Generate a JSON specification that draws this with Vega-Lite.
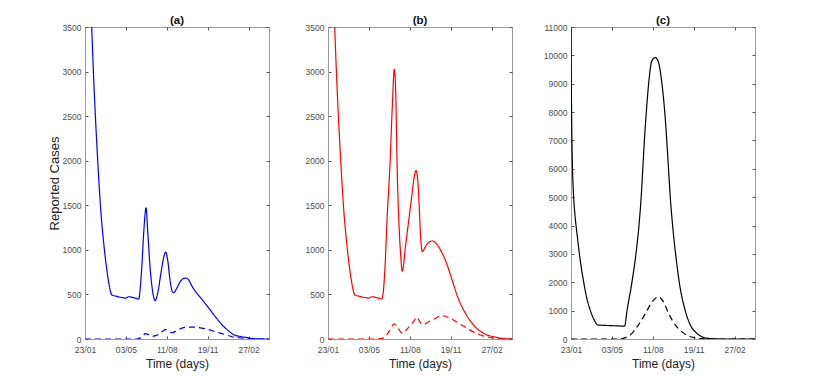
{
  "$schema": "https://vega.github.io/schema/vega-lite/v6.json",
  "padding": {"left": 47, "top": 14, "right": 5, "bottom": 5},
  "background": "white",
  "bounds": "flush",
  "spacing": 59,
  "datasets": {
    "a": [
      {"day": 0, "cases": 11000, "series": "all"}, {"day": 0.8, "cases": 9000, "series": "all"}, {"day": 1.8, "cases": 7500, "series": "all"}, {"day": 3, "cases": 6400, "series": "all"}, {"day": 4.5, "cases": 5600, "series": "all"}, {"day": 6.5, "cases": 5000, "series": "all"}, {"day": 9.5, "cases": 4400, "series": "all"}, {"day": 12.3, "cases": 4000, "series": "all"}, {"day": 16.4, "cases": 3500, "series": "all"}, {"day": 20.5, "cases": 3000, "series": "all"}, {"day": 25.4, "cases": 2500, "series": "all"}, {"day": 31.1, "cases": 2000, "series": "all"}, {"day": 37.7, "cases": 1500, "series": "all"}, {"day": 47.5, "cases": 1000, "series": "all"}, {"day": 55.7, "cases": 700, "series": "all"}, {"day": 61, "cases": 560, "series": "all"}, {"day": 65.5, "cases": 495, "series": "all"},
      {"day": 80, "cases": 476, "series": "all"}, {"day": 94, "cases": 462, "series": "all"}, {"day": 99, "cases": 458, "series": "all"}, {"day": 107, "cases": 474, "series": "all"}, {"day": 118, "cases": 465, "series": "all"}, {"day": 126, "cases": 455, "series": "all"}, {"day": 131, "cases": 448, "series": "all"},
      {"day": 138.8, "cases": 800, "series": "all"}, {"day": 143.7, "cases": 1200, "series": "all"}, {"day": 149.4, "cases": 1470, "series": "all"}, {"day": 153.5, "cases": 1200, "series": "all"}, {"day": 159.2, "cases": 800, "series": "all"}, {"day": 164.9, "cases": 550, "series": "all"}, {"day": 171.4, "cases": 430, "series": "all"}, {"day": 178, "cases": 520, "series": "all"}, {"day": 186.1, "cases": 750, "series": "all"}, {"day": 192.7, "cases": 920, "series": "all"}, {"day": 197.6, "cases": 975, "series": "all"}, {"day": 202.4, "cases": 880, "series": "all"}, {"day": 208.2, "cases": 650, "series": "all"}, {"day": 213.9, "cases": 530, "series": "all"}, {"day": 217.1, "cases": 520, "series": "all"}, {"day": 224.5, "cases": 570, "series": "all"}, {"day": 232.7, "cases": 640, "series": "all"}, {"day": 241, "cases": 680, "series": "all"}, {"day": 248, "cases": 684, "series": "all"}, {"day": 254, "cases": 660, "series": "all"}, {"day": 262, "cases": 590, "series": "all"}, {"day": 270, "cases": 535, "series": "all"}, {"day": 285, "cases": 450, "series": "all"}, {"day": 302.6, "cases": 348, "series": "all"}, {"day": 318, "cases": 255, "series": "all"}, {"day": 335, "cases": 160, "series": "all"}, {"day": 350, "cases": 95, "series": "all"}, {"day": 364, "cases": 48, "series": "all"}, {"day": 380, "cases": 28, "series": "all"}, {"day": 392, "cases": 19, "series": "all"}, {"day": 410, "cases": 6, "series": "all"}, {"day": 425, "cases": 1, "series": "all"}, {"day": 450, "cases": 0, "series": "all"},
      {"day": 0, "cases": 0, "series": "part"}, {"day": 125, "cases": 0, "series": "part"}, {"day": 138, "cases": 20, "series": "part"}, {"day": 148, "cases": 60, "series": "part"}, {"day": 155, "cases": 50, "series": "part"}, {"day": 163, "cases": 30, "series": "part"}, {"day": 175, "cases": 40, "series": "part"}, {"day": 188, "cases": 80, "series": "part"}, {"day": 197, "cases": 105, "series": "part"}, {"day": 205, "cases": 85, "series": "part"}, {"day": 213, "cases": 70, "series": "part"}, {"day": 221, "cases": 86, "series": "part"}, {"day": 233, "cases": 115, "series": "part"}, {"day": 245, "cases": 130, "series": "part"}, {"day": 258, "cases": 134, "series": "part"}, {"day": 278, "cases": 128, "series": "part"}, {"day": 294, "cases": 115, "series": "part"}, {"day": 303, "cases": 105, "series": "part"}, {"day": 320, "cases": 80, "series": "part"}, {"day": 344, "cases": 48, "series": "part"}, {"day": 360, "cases": 25, "series": "part"}, {"day": 385, "cases": 11, "series": "part"}, {"day": 400, "cases": 4, "series": "part"}, {"day": 420, "cases": 0, "series": "part"}, {"day": 450, "cases": 0, "series": "part"}
    ],
    "b": [
      {"day": 0, "cases": 11000, "series": "all"}, {"day": 0.8, "cases": 9000, "series": "all"}, {"day": 1.8, "cases": 7500, "series": "all"}, {"day": 3, "cases": 6400, "series": "all"}, {"day": 4.5, "cases": 5600, "series": "all"}, {"day": 6.5, "cases": 5000, "series": "all"}, {"day": 9.5, "cases": 4400, "series": "all"}, {"day": 12.3, "cases": 4000, "series": "all"}, {"day": 16.4, "cases": 3500, "series": "all"}, {"day": 20.5, "cases": 3000, "series": "all"}, {"day": 25.4, "cases": 2500, "series": "all"}, {"day": 31.1, "cases": 2000, "series": "all"}, {"day": 37.7, "cases": 1500, "series": "all"}, {"day": 47.5, "cases": 1000, "series": "all"}, {"day": 55.7, "cases": 700, "series": "all"}, {"day": 61, "cases": 560, "series": "all"}, {"day": 65.5, "cases": 495, "series": "all"},
      {"day": 80, "cases": 476, "series": "all"}, {"day": 94, "cases": 462, "series": "all"}, {"day": 99, "cases": 458, "series": "all"}, {"day": 107, "cases": 474, "series": "all"}, {"day": 118, "cases": 465, "series": "all"}, {"day": 126, "cases": 455, "series": "all"}, {"day": 131, "cases": 448, "series": "all"},
      {"day": 135, "cases": 520, "series": "all"}, {"day": 139.3, "cases": 800, "series": "all"}, {"day": 145, "cases": 1400, "series": "all"}, {"day": 151.5, "cases": 1950, "series": "all"}, {"day": 157.2, "cases": 2600, "series": "all"}, {"day": 162.1, "cases": 3025, "series": "all"}, {"day": 165.4, "cases": 2800, "series": "all"}, {"day": 169.5, "cases": 1850, "series": "all"}, {"day": 173.5, "cases": 1300, "series": "all"}, {"day": 177.6, "cases": 950, "series": "all"}, {"day": 181.7, "cases": 760, "series": "all"}, {"day": 189.8, "cases": 1050, "series": "all"}, {"day": 198, "cases": 1350, "series": "all"}, {"day": 206.1, "cases": 1650, "series": "all"}, {"day": 211, "cases": 1820, "series": "all"}, {"day": 215.1, "cases": 1890, "series": "all"}, {"day": 219.2, "cases": 1800, "series": "all"}, {"day": 222.4, "cases": 1550, "series": "all"}, {"day": 226.5, "cases": 1150, "series": "all"}, {"day": 230.5, "cases": 980, "series": "all"}, {"day": 238.7, "cases": 1040, "series": "all"}, {"day": 246.8, "cases": 1085, "series": "all"}, {"day": 255, "cases": 1100, "series": "all"}, {"day": 263, "cases": 1080, "series": "all"}, {"day": 275, "cases": 1000, "series": "all"}, {"day": 290, "cases": 850, "series": "all"}, {"day": 302, "cases": 684, "series": "all"}, {"day": 318, "cases": 460, "series": "all"}, {"day": 330, "cases": 340, "series": "all"}, {"day": 343, "cases": 236, "series": "all"}, {"day": 363, "cases": 123, "series": "all"}, {"day": 388, "cases": 48, "series": "all"}, {"day": 412, "cases": 19, "series": "all"}, {"day": 430, "cases": 5, "series": "all"}, {"day": 450, "cases": 0, "series": "all"},
      {"day": 0, "cases": 0, "series": "part"}, {"day": 120, "cases": 0, "series": "part"}, {"day": 135, "cases": 10, "series": "part"}, {"day": 150, "cases": 90, "series": "part"}, {"day": 162, "cases": 170, "series": "part"}, {"day": 170, "cases": 130, "series": "part"}, {"day": 182, "cases": 65, "series": "part"}, {"day": 195, "cases": 120, "series": "part"}, {"day": 210, "cases": 200, "series": "part"}, {"day": 217, "cases": 245, "series": "part"}, {"day": 225, "cases": 190, "series": "part"}, {"day": 232, "cases": 160, "series": "part"}, {"day": 245, "cases": 190, "series": "part"}, {"day": 260, "cases": 225, "series": "part"}, {"day": 277, "cases": 262, "series": "part"}, {"day": 290, "cases": 250, "series": "part"}, {"day": 306, "cases": 217, "series": "part"}, {"day": 322, "cases": 170, "series": "part"}, {"day": 339, "cases": 123, "series": "part"}, {"day": 355, "cases": 80, "series": "part"}, {"day": 371, "cases": 48, "series": "part"}, {"day": 388, "cases": 25, "series": "part"}, {"day": 404, "cases": 11, "series": "part"}, {"day": 425, "cases": 2, "series": "part"}, {"day": 450, "cases": 0, "series": "part"}
    ],
    "c": [
      {"day": 0, "cases": 11000, "series": "all"}, {"day": 0.8, "cases": 9000, "series": "all"}, {"day": 1.8, "cases": 7500, "series": "all"}, {"day": 3, "cases": 6400, "series": "all"}, {"day": 4.5, "cases": 5600, "series": "all"}, {"day": 6.5, "cases": 5000, "series": "all"}, {"day": 9.5, "cases": 4400, "series": "all"}, {"day": 12.3, "cases": 4000, "series": "all"}, {"day": 16.4, "cases": 3500, "series": "all"}, {"day": 20.5, "cases": 3000, "series": "all"}, {"day": 25.4, "cases": 2500, "series": "all"}, {"day": 31.1, "cases": 2000, "series": "all"}, {"day": 37.7, "cases": 1500, "series": "all"}, {"day": 47.5, "cases": 1000, "series": "all"}, {"day": 55.7, "cases": 700, "series": "all"}, {"day": 61, "cases": 560, "series": "all"}, {"day": 65.5, "cases": 495, "series": "all"},
      {"day": 84, "cases": 480, "series": "all"}, {"day": 100, "cases": 470, "series": "all"}, {"day": 116, "cases": 462, "series": "all"}, {"day": 131, "cases": 450, "series": "all"},
      {"day": 137, "cases": 1000, "series": "all"}, {"day": 149, "cases": 2000, "series": "all"}, {"day": 158.8, "cases": 3000, "series": "all"}, {"day": 166.2, "cases": 4000, "series": "all"}, {"day": 171.6, "cases": 5000, "series": "all"}, {"day": 175.6, "cases": 6000, "series": "all"}, {"day": 179.5, "cases": 7000, "series": "all"}, {"day": 184.2, "cases": 8000, "series": "all"}, {"day": 189.9, "cases": 9000, "series": "all"}, {"day": 197.5, "cases": 9800, "series": "all"}, {"day": 206, "cases": 9920, "series": "all"}, {"day": 213, "cases": 9800, "series": "all"}, {"day": 222.4, "cases": 9000, "series": "all"}, {"day": 229.3, "cases": 8000, "series": "all"}, {"day": 234.2, "cases": 7000, "series": "all"}, {"day": 238.5, "cases": 6000, "series": "all"}, {"day": 242.8, "cases": 5000, "series": "all"}, {"day": 248.5, "cases": 4000, "series": "all"}, {"day": 255.8, "cases": 3000, "series": "all"}, {"day": 264.8, "cases": 2000, "series": "all"}, {"day": 279.4, "cases": 1000, "series": "all"}, {"day": 291.6, "cases": 500, "series": "all"}, {"day": 308, "cases": 200, "series": "all"}, {"day": 320, "cases": 80, "series": "all"}, {"day": 336.5, "cases": 20, "series": "all"}, {"day": 369, "cases": 0, "series": "all"}, {"day": 450, "cases": 0, "series": "all"},
      {"day": 0, "cases": 0, "series": "part"}, {"day": 116, "cases": 0, "series": "part"}, {"day": 133, "cases": 50, "series": "part"}, {"day": 149, "cases": 200, "series": "part"}, {"day": 165, "cases": 500, "series": "part"}, {"day": 182, "cases": 900, "series": "part"}, {"day": 198, "cases": 1300, "series": "part"}, {"day": 214, "cases": 1490, "series": "part"}, {"day": 226.5, "cases": 1300, "series": "part"}, {"day": 238.7, "cases": 900, "series": "part"}, {"day": 255, "cases": 500, "series": "part"}, {"day": 271.3, "cases": 250, "series": "part"}, {"day": 287.6, "cases": 100, "series": "part"}, {"day": 304, "cases": 40, "series": "part"}, {"day": 320, "cases": 10, "series": "part"}, {"day": 345, "cases": 0, "series": "part"}, {"day": 450, "cases": 0, "series": "part"}
    ]
  },
  "hconcat": [
    {
      "width": 184, "height": 312,
      "title": {"text": "(a)"},
      "data": {"name": "a"},
      "layer": [
        {
          "mark": {"type": "line", "color": "#0000ff", "strokeWidth": 1.2, "clip": true, "interpolate": "monotone"},
          "encoding": {
            "x": {"field": "day", "type": "quantitative", "scale": {"domain": [0, 450], "nice": false}, "axis": {"values": [0, 100, 200, 300, 400], "labelExpr": "timeFormat(datetime(2021, 0, 23 + datum.value), '%d/%m')", "labelPadding": 9, "titlePadding": 5, "titleFontSize": 12, "title": "Time (days)"}},
            "y": {"field": "cases", "type": "quantitative", "scale": {"domain": [0, 3500], "nice": false}, "axis": {"values": [0, 500, 1000, 1500, 2000, 2500, 3000, 3500], "format": "d", "titlePadding": 1, "title": "Reported Cases"}},
            "strokeDash": {"field": "series", "type": "nominal", "scale": {"domain": ["all", "part"], "range": [[1, 0], [6, 4]]}, "legend": null}
          }
        },
        {
          "mark": {"type": "line", "opacity": 0, "clip": true},
          "encoding": {
            "x": {"field": "day", "type": "quantitative", "axis": {"orient": "top", "values": [0, 100, 200, 300, 400], "labels": false, "domain": false, "title": null}},
            "y": {"field": "cases", "type": "quantitative", "axis": {"orient": "right", "values": [0, 500, 1000, 1500, 2000, 2500, 3000, 3500], "labels": false, "domain": false, "title": null}}
          }
        }
      ],
      "resolve": {"axis": {"x": "independent", "y": "independent"}}
    },
    {
      "width": 184, "height": 312,
      "title": {"text": "(b)"},
      "data": {"name": "b"},
      "layer": [
        {
          "mark": {"type": "line", "color": "#ff0000", "strokeWidth": 1.2, "clip": true, "interpolate": "monotone"},
          "encoding": {
            "x": {"field": "day", "type": "quantitative", "scale": {"domain": [0, 450], "nice": false}, "axis": {"values": [0, 100, 200, 300, 400], "labelExpr": "timeFormat(datetime(2021, 0, 23 + datum.value), '%d/%m')", "labelPadding": 9, "titlePadding": 5, "titleFontSize": 12, "title": "Time (days)"}},
            "y": {"field": "cases", "type": "quantitative", "scale": {"domain": [0, 3500], "nice": false}, "axis": {"values": [0, 500, 1000, 1500, 2000, 2500, 3000, 3500], "format": "d", "title": null}},
            "strokeDash": {"field": "series", "type": "nominal", "scale": {"domain": ["all", "part"], "range": [[1, 0], [6, 4]]}, "legend": null}
          }
        },
        {
          "mark": {"type": "line", "opacity": 0, "clip": true},
          "encoding": {
            "x": {"field": "day", "type": "quantitative", "axis": {"orient": "top", "values": [0, 100, 200, 300, 400], "labels": false, "domain": false, "title": null}},
            "y": {"field": "cases", "type": "quantitative", "axis": {"orient": "right", "values": [0, 500, 1000, 1500, 2000, 2500, 3000, 3500], "labels": false, "domain": false, "title": null}}
          }
        }
      ],
      "resolve": {"axis": {"x": "independent", "y": "independent"}}
    },
    {
      "width": 184, "height": 312,
      "title": {"text": "(c)"},
      "data": {"name": "c"},
      "layer": [
        {
          "mark": {"type": "line", "color": "#000000", "strokeWidth": 1.2, "clip": true, "interpolate": "monotone"},
          "encoding": {
            "x": {"field": "day", "type": "quantitative", "scale": {"domain": [0, 450], "nice": false}, "axis": {"values": [0, 100, 200, 300, 400], "labelExpr": "timeFormat(datetime(2021, 0, 23 + datum.value), '%d/%m')", "labelPadding": 9, "titlePadding": 5, "titleFontSize": 12, "title": "Time (days)"}},
            "y": {"field": "cases", "type": "quantitative", "scale": {"domain": [0, 11000], "nice": false}, "axis": {"values": [0, 1000, 2000, 3000, 4000, 5000, 6000, 7000, 8000, 9000, 10000, 11000], "format": "d", "title": null}},
            "strokeDash": {"field": "series", "type": "nominal", "scale": {"domain": ["all", "part"], "range": [[1, 0], [6, 4]]}, "legend": null}
          }
        },
        {
          "mark": {"type": "line", "opacity": 0, "clip": true},
          "encoding": {
            "x": {"field": "day", "type": "quantitative", "axis": {"orient": "top", "values": [0, 100, 200, 300, 400], "labels": false, "domain": false, "title": null}},
            "y": {"field": "cases", "type": "quantitative", "axis": {"orient": "right", "values": [0, 1000, 2000, 3000, 4000, 5000, 6000, 7000, 8000, 9000, 10000, 11000], "labels": false, "domain": false, "title": null}}
          }
        }
      ],
      "resolve": {"axis": {"x": "independent", "y": "independent"}}
    }
  ],
  "config": {
    "font": "Liberation Sans",
    "view": {"stroke": "#9a9a9a", "strokeWidth": 1},
    "axis": {
      "grid": false,
      "domainColor": "#9a9a9a",
      "tickColor": "#555555",
      "tickSize": -3,
      "labelPadding": 7,
      "labelFlush": false,
      "labelOverlap": false,
      "labelColor": "#4d4d4d",
      "labelFontSize": 8.5,
      "titleFont": "Liberation Sans",
      "titleFontSize": 13,
      "titleFontWeight": "normal",
      "titleColor": "#222222",
      "titlePadding": 3
    },
    "title": {"fontSize": 11.5, "fontWeight": "bold", "color": "#111111", "offset": -3}
  }
}
